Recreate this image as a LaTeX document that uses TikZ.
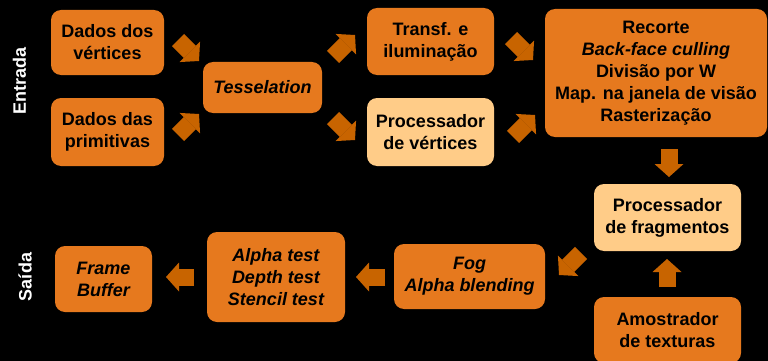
\documentclass[tikz,border=0pt]{standalone}
\usepackage{fontspec}
\setmainfont{Liberation Sans}
\usetikzlibrary{arrows.meta}
\definecolor{boxor}{HTML}{E6791E}
\definecolor{boxlt}{HTML}{FFCC88}
\definecolor{arrcol}{HTML}{C86400}
\tikzset{
  box/.style={rounded corners=10pt, fill=boxor, draw=none, align=center, inner sep=0pt,
     font=\fontsize{18}{22}\selectfont\bfseries, text=black},
  ltbox/.style={box, fill=boxlt},
  side/.style={font=\fontsize{18}{22}\selectfont\bfseries, text=white, rotate=90, inner sep=0pt},
  barrow/.style={draw=arrcol, line width=17pt, line cap=butt,
     -{Triangle[length=13pt,width=29pt,line width=0pt]}}
}
\begin{document}
\begin{tikzpicture}[x=1pt,y=-1pt]
\fill[black] (0,0) rectangle (768,361);
\useasboundingbox (0,0) rectangle (768,361);

\node[box, minimum width=113pt, minimum height=65pt] (d1) at (107.5,42.5) {Dados dos\\vértices};
\node[box, minimum width=113pt, minimum height=68pt] (d2) at (107.5,132) {Dados das\\primitivas};
\node[box, minimum width=119pt, minimum height=51pt] (tess) at (262.5,87.5) {\itshape Tesselation};
\node[box, minimum width=127pt, minimum height=67pt] (tr) at (430.5,41.5) {Transf. e\\iluminação};
\node[ltbox, minimum width=127pt, minimum height=68pt] (pv) at (430.5,132) {Processador\\de vértices};
\node[box, minimum width=222pt, minimum height=128pt] (rec) at (656,73) {Recorte\\\itshape Back-face culling\\Divisão por W\\Map. na janela de visão\\Rasterização};
\node[ltbox, minimum width=147pt, minimum height=67pt] (pf) at (667.5,217.5) {Processador\\de fragmentos};
\node[box, minimum width=147pt, minimum height=66pt] (am) at (667.5,330) {Amostrador\\de texturas};
\node[box, minimum width=151pt, minimum height=65pt] (fog) at (469.5,276.5) {\itshape Fog\\\itshape Alpha blending};
\node[box, minimum width=138pt, minimum height=90pt] (al) at (276,277) {\itshape Alpha test\\\itshape Depth test\\\itshape Stencil test};
\node[box, minimum width=97pt, minimum height=66pt] (fb) at (103.5,279) {\itshape Frame\\\itshape Buffer};

\node[side] (entrada) at (19.5,81) {Entrada};
\node[side] (saida) at (25,277) {Saída};

\coordinate (a1s) at (178,40);  \coordinate (a1e) at (199,61);
\coordinate (a2s) at (178,135); \coordinate (a2e) at (199,114);
\coordinate (a3s) at (333,57);  \coordinate (a3e) at (355,35);
\coordinate (a4s) at (333,118); \coordinate (a4e) at (355,140);
\coordinate (a5s) at (511,38);  \coordinate (a5e) at (533,60);
\coordinate (a6s) at (513,137); \coordinate (a6e) at (535,115);
\coordinate (a7s) at (669,149); \coordinate (a7e) at (669,177);
\coordinate (a8s) at (581,253); \coordinate (a8e) at (559,275);
\coordinate (a9s) at (667,287); \coordinate (a9e) at (667,259);
\coordinate (a10s) at (385,277); \coordinate (a10e) at (356,277);
\coordinate (a11s) at (194,277); \coordinate (a11e) at (166,277);

\foreach \i in {1,...,11} {\draw[barrow] (a\i s) -- (a\i e);}
\end{tikzpicture}
\end{document}
